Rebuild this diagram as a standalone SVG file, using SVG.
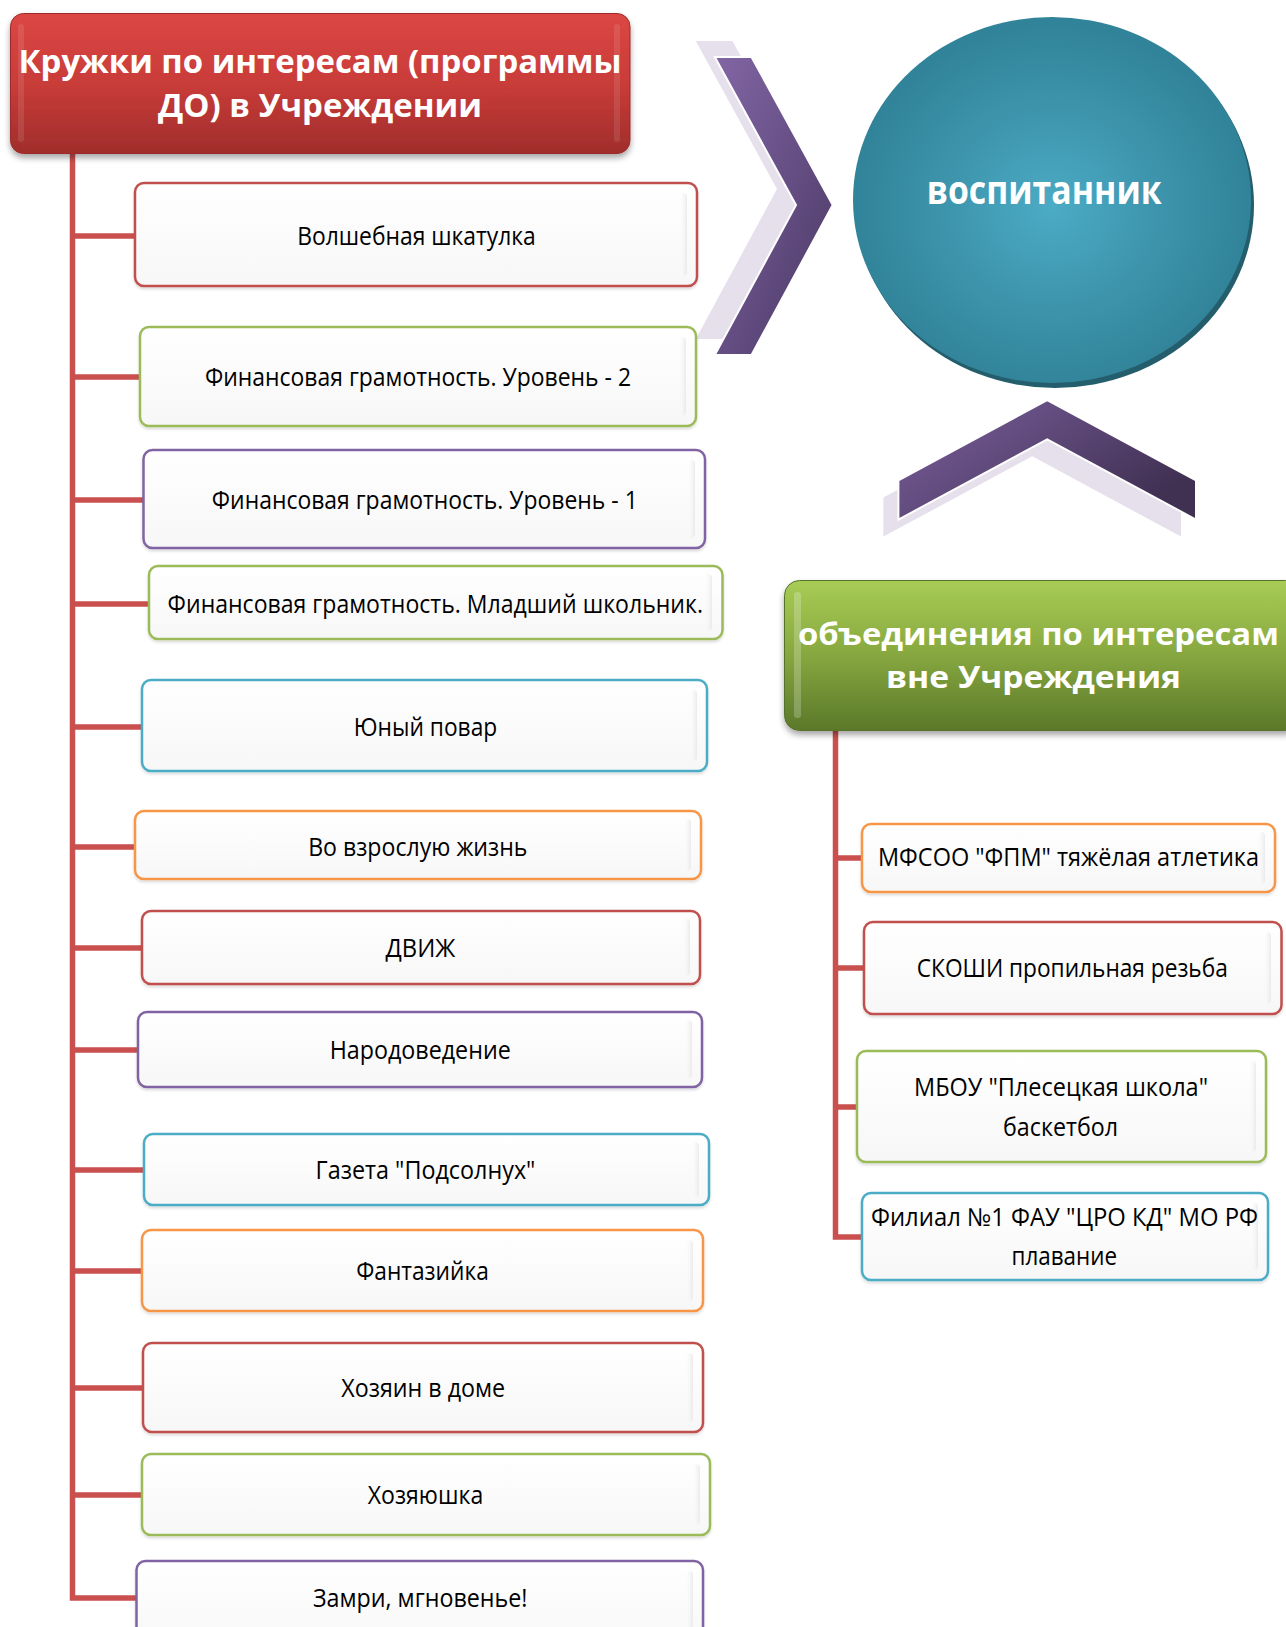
<svg xmlns="http://www.w3.org/2000/svg" width="1286" height="1627" viewBox="0 0 1286 1627">
<defs>
<linearGradient id="gRed" x1="0" y1="0" x2="0" y2="1">
<stop offset="0" stop-color="#db4744"/><stop offset="0.5" stop-color="#c93c39"/><stop offset="1" stop-color="#a02d2b"/>
</linearGradient>
<linearGradient id="gGreen" x1="0" y1="0" x2="0" y2="1">
<stop offset="0" stop-color="#a8cc55"/><stop offset="0.5" stop-color="#86a73f"/><stop offset="1" stop-color="#5b782a"/>
</linearGradient>
<radialGradient id="gCircle" cx="0.5" cy="0.52" r="0.5">
<stop offset="0" stop-color="#4cabc5"/><stop offset="0.45" stop-color="#3f98b0"/><stop offset="1" stop-color="#318399"/>
</radialGradient>
<linearGradient id="gChevR" x1="0" y1="0" x2="1" y2="1">
<stop offset="0" stop-color="#8266a5"/><stop offset="1" stop-color="#4a3864"/>
</linearGradient>
<linearGradient id="gChevU" x1="0" y1="0" x2="1" y2="0.6">
<stop offset="0" stop-color="#7d61a0"/><stop offset="1" stop-color="#403052"/>
</linearGradient>
<linearGradient id="gBox" x1="0" y1="0" x2="0" y2="1">
<stop offset="0" stop-color="#ffffff"/><stop offset="1" stop-color="#f7f7f7"/>
</linearGradient>
<linearGradient id="gGloss" x1="0" y1="0" x2="1" y2="0">
<stop offset="0" stop-color="#ffffff" stop-opacity="0"/><stop offset="1" stop-color="#e6e6e6" stop-opacity="0.8"/>
</linearGradient>
<filter id="sh" x="-5%" y="-10%" width="110%" height="130%">
<feGaussianBlur in="SourceAlpha" stdDeviation="3"/>
<feOffset dx="0" dy="4" result="b"/>
<feComponentTransfer><feFuncA type="linear" slope="0.35"/></feComponentTransfer>
<feMerge><feMergeNode/><feMergeNode in="SourceGraphic"/></feMerge>
</filter>
<filter id="shs" x="-5%" y="-10%" width="110%" height="130%">
<feGaussianBlur in="SourceAlpha" stdDeviation="1.5"/>
<feOffset dx="0" dy="2" result="b"/>
<feComponentTransfer><feFuncA type="linear" slope="0.15"/></feComponentTransfer>
<feMerge><feMergeNode/><feMergeNode in="SourceGraphic"/></feMerge>
</filter>
</defs>
<style>
.box{fill:url(#gBox);stroke-width:2.5;filter:url(#shs)}
.red{stroke:#c0504d}.grn{stroke:#9bbb59}.pur{stroke:#8064a2}.blu{stroke:#4bacc6}.org{stroke:#f79646}
.gl{fill:url(#gGloss)}
.t{font-family:"Open Sans","Noto Sans",sans-serif;font-size:25px;fill:#000;text-anchor:middle}
.h{font-family:"Open Sans","Noto Sans",sans-serif;font-weight:bold;fill:#ffffff;text-anchor:middle}
.con{fill:none;stroke:#c9504e;stroke-width:5.5}
.light{fill:#e5e0ec}
</style>
<rect width="1286" height="1627" fill="#ffffff"/>

<!-- connectors -->
<g id="connectors">
<path class="con" d="M72.5 153 V1598 H137"/>
<path class="con" d="M72.5 236 H135 M72.5 377 H140 M72.5 500 H143 M72.5 604 H149 M72.5 727 H142 M72.5 847 H135 M72.5 948 H142 M72.5 1050 H138 M72.5 1170 H144 M72.5 1271 H142 M72.5 1388 H143 M72.5 1495 H142"/>
<path class="con" d="M835.5 731 V1237 H862"/>
<path class="con" d="M835.5 858 H862 M835.5 968 H864 M835.5 1107 H857"/>
</g>

<!-- chevrons -->
<g id="chevron-right">
<polygon class="light" points="695.8,41 732.5,41 813.7,189 732.5,339 695.8,339 777,189"/>
<polygon fill="url(#gChevR)" stroke="#ffffff" stroke-width="2" points="714.8,57 751.5,57 832.7,205 751.5,355 714.8,355 796,205"/>
</g>
<g id="chevron-up">
<polygon class="light" points="883.4,497.4 1032.2,417 1181,497.4 1181,536.6 1032.2,456.3 883.4,536.6"/>
<polygon fill="url(#gChevU)" stroke="#ffffff" stroke-width="2" points="898.4,480.4 1047.2,400 1196,480.4 1196,519.6 1047.2,439.3 898.4,519.6"/>
</g>

<!-- header left -->
<g id="header-left">
<rect x="10.5" y="13.5" width="619.5" height="140" rx="13" fill="url(#gRed)" stroke="#9c2c29" stroke-width="1" filter="url(#sh)"/>
<rect x="18" y="24" width="6" height="118" rx="3" fill="#ffffff" opacity="0.1"/>
<rect x="614" y="24" width="6" height="118" rx="3" fill="#ffffff" opacity="0.1"/>
<text class="h" x="320" y="72.7" font-size="33" textLength="603" lengthAdjust="spacingAndGlyphs">Кружки по интересам (программы</text>
<text class="h" x="320" y="116.7" font-size="33" textLength="324" lengthAdjust="spacingAndGlyphs">ДО) в Учреждении</text>
</g>

<!-- circle -->
<g id="node-vospitannik">
<ellipse cx="1055" cy="205" rx="199" ry="183" fill="#245e6d"/>
<ellipse cx="1052" cy="200" rx="199" ry="183" fill="url(#gCircle)"/>
<text class="h" x="1044.2" y="204" font-size="40" textLength="235" lengthAdjust="spacingAndGlyphs">воспитанник</text>
</g>

<!-- header right -->
<g id="header-right">
<rect x="784.5" y="580.5" width="516" height="150" rx="15" fill="url(#gGreen)" stroke="#57722a" stroke-width="1" filter="url(#sh)"/>
<rect x="794" y="592" width="7" height="126" rx="3" fill="#ffffff" opacity="0.22"/>
<text class="h" x="1038.4" y="645" font-size="31" textLength="481" lengthAdjust="spacingAndGlyphs">объединения по интересам</text>
<text class="h" x="1033.5" y="688" font-size="31" textLength="295" lengthAdjust="spacingAndGlyphs">вне Учреждения</text>
</g>

<!-- left nodes -->
<g id="n1"><rect class="box red" x="135" y="183" width="562" height="103" rx="9"/><rect class="gl" x="679" y="193" width="8" height="83" rx="4"/>
<text class="t" x="416.5" y="245" textLength="238.6" lengthAdjust="spacingAndGlyphs">Волшебная шкатулка</text></g>
<g id="n2"><rect class="box grn" x="140" y="327" width="556" height="99" rx="9"/><rect class="gl" x="678" y="337" width="8" height="79" rx="4"/>
<text class="t" x="418" y="386" textLength="426" lengthAdjust="spacingAndGlyphs">Финансовая грамотность. Уровень - 2</text></g>
<g id="n3"><rect class="box pur" x="143.5" y="450" width="561.5" height="98" rx="9"/><rect class="gl" x="687" y="460" width="8" height="78" rx="4"/>
<text class="t" x="424.8" y="509" textLength="426" lengthAdjust="spacingAndGlyphs">Финансовая грамотность. Уровень - 1</text></g>
<g id="n4"><rect class="box grn" x="149" y="566" width="573.5" height="73" rx="9"/><rect class="gl" x="704" y="574" width="8" height="57" rx="4"/>
<text class="t" x="435.3" y="613" textLength="535.4" lengthAdjust="spacingAndGlyphs">Финансовая грамотность. Младший школьник.</text></g>
<g id="n5"><rect class="box blu" x="142" y="680" width="565" height="91" rx="9"/><rect class="gl" x="689" y="690" width="8" height="71" rx="4"/>
<text class="t" x="425.5" y="736" textLength="143.4" lengthAdjust="spacingAndGlyphs">Юный повар</text></g>
<g id="n6"><rect class="box org" x="135" y="811" width="566" height="68" rx="9"/><rect class="gl" x="683" y="819" width="8" height="52" rx="4"/>
<text class="t" x="417.8" y="856" textLength="219.3" lengthAdjust="spacingAndGlyphs">Во взрослую жизнь</text></g>
<g id="n7"><rect class="box red" x="142" y="911" width="558" height="73" rx="9"/><rect class="gl" x="682" y="919" width="8" height="57" rx="4"/>
<text class="t" x="420.4" y="957" textLength="69.8" lengthAdjust="spacingAndGlyphs">ДВИЖ</text></g>
<g id="n8"><rect class="box pur" x="138" y="1012" width="564" height="75" rx="9"/><rect class="gl" x="684" y="1020" width="8" height="59" rx="4"/>
<text class="t" x="420.2" y="1059" textLength="181.1" lengthAdjust="spacingAndGlyphs">Народоведение</text></g>
<g id="n9"><rect class="box blu" x="144" y="1134" width="565" height="71" rx="9"/><rect class="gl" x="691" y="1142" width="8" height="55" rx="4"/>
<text class="t" x="425.5" y="1179" textLength="219.8" lengthAdjust="spacingAndGlyphs">Газета "Подсолнух"</text></g>
<g id="n10"><rect class="box org" x="142" y="1230" width="561" height="81" rx="9"/><rect class="gl" x="685" y="1240" width="8" height="61" rx="4"/>
<text class="t" x="422.5" y="1280" textLength="132.7" lengthAdjust="spacingAndGlyphs">Фантазийка</text></g>
<g id="n11"><rect class="box red" x="143" y="1343" width="560" height="89" rx="9"/><rect class="gl" x="685" y="1353" width="8" height="69" rx="4"/>
<text class="t" x="423.2" y="1397" textLength="163.9" lengthAdjust="spacingAndGlyphs">Хозяин в доме</text></g>
<g id="n12"><rect class="box grn" x="142" y="1454" width="568" height="81" rx="9"/><rect class="gl" x="692" y="1464" width="8" height="61" rx="4"/>
<text class="t" x="425.5" y="1504" textLength="115.4" lengthAdjust="spacingAndGlyphs">Хозяюшка</text></g>
<g id="n13"><rect class="box pur" x="136.5" y="1561" width="566.5" height="90" rx="9"/><rect class="gl" x="685" y="1571" width="8" height="70" rx="4"/>
<text class="t" x="420.2" y="1607" textLength="214.6" lengthAdjust="spacingAndGlyphs">Замри, мгновенье!</text></g>

<!-- right nodes -->
<g id="r1"><rect class="box org" x="862" y="824" width="413" height="68" rx="9"/><rect class="gl" x="1257" y="832" width="8" height="52" rx="4"/>
<text class="t" x="1068.5" y="865.7" textLength="381" lengthAdjust="spacingAndGlyphs">МФСОО "ФПМ" тяжёлая атлетика</text></g>
<g id="r2"><rect class="box red" x="864" y="922" width="417.5" height="92" rx="9"/><rect class="gl" x="1263" y="932" width="8" height="72" rx="4"/>
<text class="t" x="1072.3" y="976.7" textLength="311" lengthAdjust="spacingAndGlyphs">СКОШИ пропильная резьба</text></g>
<g id="r3"><rect class="box grn" x="857" y="1051" width="409" height="111" rx="9"/><rect class="gl" x="1248" y="1061" width="8" height="91" rx="4"/>
<text class="t" x="1061" y="1096" textLength="294" lengthAdjust="spacingAndGlyphs">МБОУ "Плесецкая школа"</text>
<text class="t" x="1060.5" y="1136" textLength="115" lengthAdjust="spacingAndGlyphs">баскетбол</text></g>
<g id="r4"><rect class="box blu" x="862" y="1193" width="406" height="87" rx="9"/><rect class="gl" x="1250" y="1203" width="8" height="67" rx="4"/>
<text class="t" x="1064.5" y="1225.7" textLength="387" lengthAdjust="spacingAndGlyphs">Филиал №1 ФАУ "ЦРО КД" МО РФ</text>
<text class="t" x="1064.3" y="1265" textLength="105.5" lengthAdjust="spacingAndGlyphs">плавание</text></g>
</svg>
